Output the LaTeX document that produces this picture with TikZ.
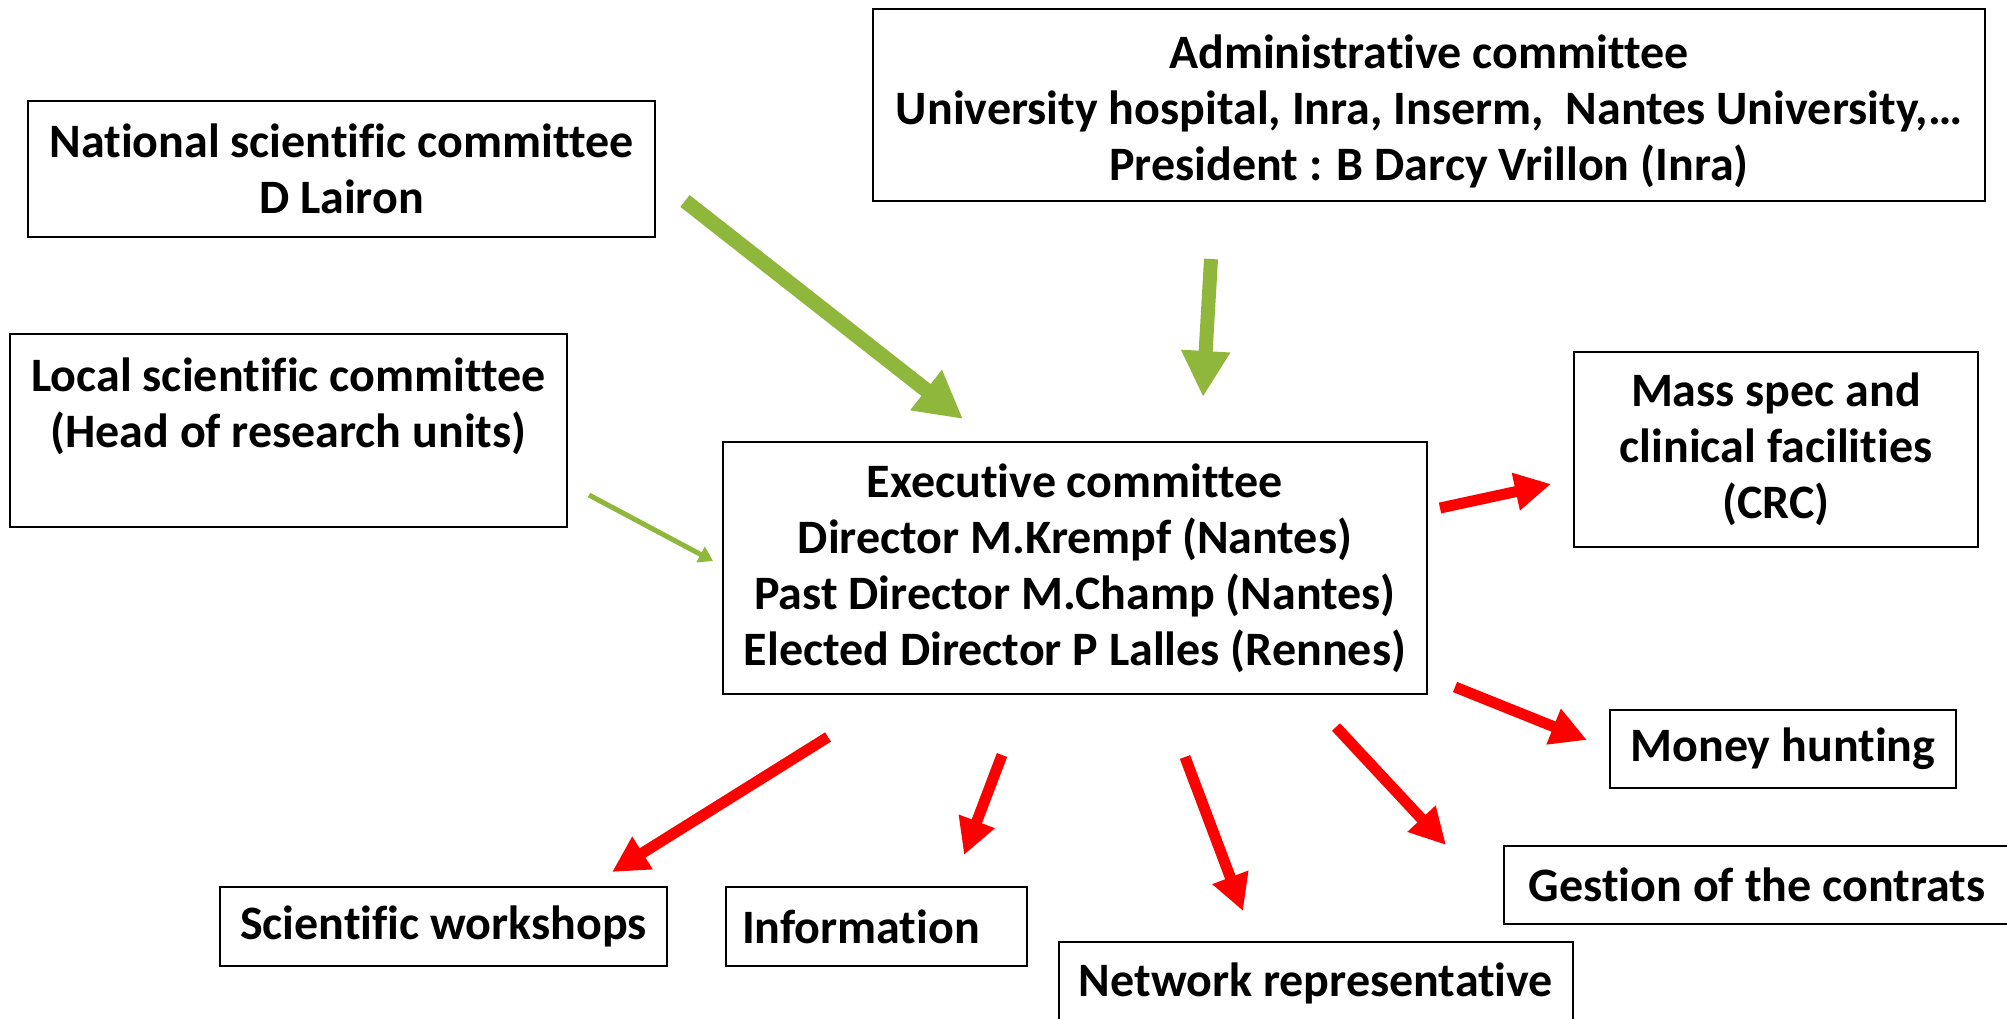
\documentclass[tikz,border=0pt]{standalone}
\usepackage{fontspec}
\setmainfont[Ligatures=NoCommon]{Carlito}
\usetikzlibrary{arrows.meta}
\definecolor{agreen}{RGB}{143,183,59}
\definecolor{ared}{RGB}{255,0,0}
\begin{document}
\begin{tikzpicture}[x=0.5pt,y=-0.5pt,
  box/.style={draw=black,line width=1.2pt,inner sep=0pt,align=center,
    font=\fontsize{24}{28}\selectfont\bfseries},
  bigg/.style={draw=agreen,line width=7.5pt,-{Triangle[width=24pt,length=23.5pt]}},
  midg/.style={draw=agreen,line width=7pt,-{Triangle[width=23pt,length=23pt]}},
  thing/.style={draw=agreen,line width=2.5pt,-{Triangle[width=8.5pt,length=7pt]}},
  redarr/.style={draw=ared,line width=5.5pt,-{Triangle[width=18pt,length=18pt]}}]
\useasboundingbox (0,0) rectangle (2007,1018);
\fill[white] (0,0) rectangle (2007,1018);

\node[box,minimum width=313.5pt,minimum height=68pt] (nat) at (341.5,169)
  {National scientific committee\\D Lairon};
\node[box,minimum width=556pt,minimum height=96pt] (adm) at (1429,105)
  {\rule{0pt}{23pt}Administrative committee\\University hospital, Inra, Inserm,\ \ Nantes University,…\\President : B Darcy Vrillon (Inra)};
\node[box,minimum width=278.5pt,minimum height=96.5pt] (loc) at (288.5,430.5)
  {Local scientific committee\\(Head of research units)\\\mbox{}};
\node[box,minimum width=352pt,minimum height=126pt] (exe) at (1075,568)
  {Executive committee\\Director M.Krempf (Nantes)\\Past Director M.Champ (Nantes)\\Elected Director P Lalles (Rennes)};
\node[box,minimum width=202pt,minimum height=97.5pt] (mass) at (1776,449.5)
  {Mass spec and\\clinical facilities\\(CRC)};
\node[box,minimum width=173pt,minimum height=39pt] (money) at (1783,749)
  {Money hunting};
\node[box,minimum width=253pt,minimum height=39pt] (gest) at (1757,885)
  {Gestion of the contrats};
\node[box,minimum width=223.5pt,minimum height=39.5pt] (work) at (443.5,926.5)
  {Scientific workshops};
\node[box,minimum height=39.5pt,text width=134.5pt,align=left,inner xsep=8pt] (info) at (876.5,926.5)
  {Information};
\node[box,minimum width=257pt,minimum height=41pt] (net) at (1316,983)
  {Network representative};

\coordinate (g1a) at (685,201);  \coordinate (g1b) at (963,419);
\coordinate (g2a) at (1211,259); \coordinate (g2b) at (1203,397);
\coordinate (g3a) at (589,495);  \coordinate (g3b) at (713,561);
\coordinate (r1a) at (1440,508); \coordinate (r1b) at (1551,484);
\coordinate (r2a) at (1455,687); \coordinate (r2b) at (1587,740);
\coordinate (r3a) at (1336,727); \coordinate (r3b) at (1446,845);
\coordinate (r4a) at (1185,757); \coordinate (r4b) at (1243,911);
\coordinate (r5a) at (1002,755); \coordinate (r5b) at (964,855);
\coordinate (r6a) at (828,737);  \coordinate (r6b) at (612,872);

\draw[bigg] (g1a) -- (g1b);
\draw[midg] (g2a) -- (g2b);
\draw[thing] (g3a) -- (g3b);
\draw[redarr] (r1a) -- (r1b);
\draw[redarr] (r2a) -- (r2b);
\draw[redarr] (r3a) -- (r3b);
\draw[redarr] (r4a) -- (r4b);
\draw[redarr] (r5a) -- (r5b);
\draw[redarr] (r6a) -- (r6b);
\end{tikzpicture}
\end{document}
